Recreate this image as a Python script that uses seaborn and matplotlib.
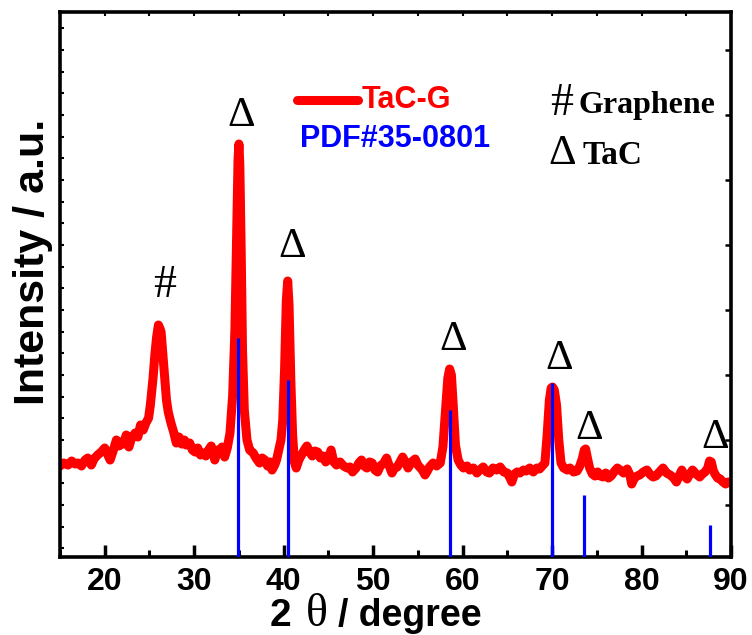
import numpy as np
import pandas as pd
import seaborn as sns
import matplotlib
matplotlib.use("Agg")
import matplotlib.pyplot as plt
from matplotlib.ticker import MultipleLocator

# XRD pattern of the TaC-G sample (2-theta in degrees, intensity in counts)
two_theta = [
    15.0, 15.4, 15.9, 16.3, 16.7, 17.0, 17.4, 17.8, 18.1, 18.5, 18.8, 19.2, 19.6, 20.0,
    20.3, 20.6, 20.9, 21.3, 21.6, 21.8, 22.1, 22.4, 22.7, 23.0, 23.4, 23.7, 24.0, 24.3,
    24.6, 24.9, 25.1, 25.4, 25.6, 25.8, 26.0, 26.15, 26.3, 26.5, 26.7, 26.9, 27.1, 27.4,
    27.7, 28.0, 28.3, 28.6, 28.9, 29.1, 29.5, 29.8, 30.1, 30.4, 30.7, 31.0, 31.3, 31.6,
    31.9, 32.1, 32.3, 32.6, 32.9, 33.1, 33.4, 33.7, 34.0, 34.3, 34.55, 34.75, 34.9, 35.0,
    35.1, 35.25, 35.4, 35.6, 35.9, 36.2, 36.6, 36.9, 37.3, 37.6, 37.9, 38.2, 38.5, 38.7,
    39.0, 39.2, 39.4, 39.7, 39.9, 40.1, 40.3, 40.45, 40.6, 40.8, 41.0, 41.2, 41.4, 41.7,
    42.0, 42.3, 42.6, 42.9, 43.2, 43.5, 43.8, 44.1, 44.4, 44.7, 45.0, 45.3, 45.6, 45.9,
    46.3, 46.7, 47.1, 47.4, 47.7, 48.1, 48.4, 48.7, 49.0, 49.3, 49.6, 49.9, 50.2, 50.5,
    50.8, 51.2, 51.5, 51.8, 52.1, 52.4, 52.7, 53.0, 53.3, 53.6, 53.9, 54.3, 54.7, 55.0,
    55.2, 55.5, 55.8, 56.0, 56.3, 56.7, 57.1, 57.5, 57.8, 58.1, 58.35, 58.55, 58.75, 58.95,
    59.2, 59.5, 59.8, 60.1, 60.5, 60.8, 61.2, 61.6, 61.9, 62.3, 62.7, 63.0, 63.4, 63.8,
    64.2, 64.6, 65.0, 65.3, 65.5, 65.8, 66.1, 66.4, 66.8, 67.1, 67.5, 67.9, 68.3, 68.6,
    68.9, 69.2, 69.45, 69.7, 69.9, 70.05, 70.25, 70.5, 70.75, 71.0, 71.3, 71.7, 72.0, 72.4,
    72.8, 73.1, 73.4, 73.6, 73.75, 73.95, 74.2, 74.5, 74.8, 75.1, 75.4, 75.7, 76.0, 76.3,
    76.6, 77.0, 77.3, 77.6, 78.0, 78.4, 78.7, 78.9, 79.2, 79.5, 79.8, 80.2, 80.6, 81.0,
    81.3, 81.6, 82.0, 82.4, 82.8, 83.2, 83.6, 83.9, 84.2, 84.5, 84.8, 85.1, 85.4, 85.7,
    86.1, 86.5, 86.8, 87.1, 87.4, 87.6, 87.8, 88.0, 88.2, 88.5, 88.8, 89.1, 89.4, 89.7, 90.0,
]
intensity = [
    1400, 1446, 1415, 1477, 1431, 1446, 1400, 1492, 1523, 1415, 1508, 1569, 1615, 1677,
    1585, 1492, 1615, 1800, 1708, 1769, 1738, 1877, 1692, 1831, 1908, 1846, 2031, 1954,
    2062, 2138, 2338, 2754, 3108, 3385, 3569, 3523, 3462, 3108, 2754, 2415, 2231, 2062,
    1923, 1754, 1846, 1738, 1800, 1723, 1754, 1646, 1615, 1677, 1569, 1600, 1554, 1646,
    1708, 1615, 1492, 1646, 1600, 1692, 1538, 1677, 1908, 2492, 3492, 5031, 6108, 6354,
    6031, 4723, 3185, 2262, 1800, 1646, 1600, 1523, 1446, 1523, 1492, 1400, 1462, 1338,
    1415, 1492, 1615, 1800, 2108, 2877, 3954, 4246, 3877, 2723, 1877, 1462, 1369, 1492,
    1569, 1646, 1708, 1615, 1554, 1631, 1615, 1523, 1554, 1462, 1523, 1646, 1462, 1415,
    1462, 1400, 1369, 1385, 1308, 1369, 1446, 1492, 1400, 1369, 1462, 1446, 1338, 1308,
    1400, 1446, 1523, 1400, 1292, 1369, 1385, 1462, 1538, 1462, 1369, 1462, 1508, 1415,
    1385, 1338, 1262, 1308, 1385, 1446, 1400, 1446, 1692, 2262, 2754, 2892, 2800, 2338,
    1723, 1492, 1415, 1369, 1400, 1338, 1369, 1292, 1338, 1385, 1308, 1292, 1369, 1338,
    1385, 1308, 1292, 1215, 1154, 1277, 1308, 1292, 1338, 1323, 1369, 1308, 1369, 1354,
    1400, 1446, 1877, 2415, 2600, 2615, 2569, 2338, 1800, 1446, 1369, 1338, 1369, 1308,
    1323, 1400, 1523, 1646, 1662, 1523, 1369, 1277, 1246, 1308, 1246, 1231, 1292, 1215,
    1246, 1323, 1369, 1338, 1292, 1354, 1262, 1123, 1215, 1246, 1262, 1308, 1338, 1262,
    1231, 1246, 1308, 1369, 1292, 1262, 1215, 1154, 1246, 1338, 1246, 1200, 1277, 1338,
    1277, 1231, 1277, 1308, 1369, 1477, 1462, 1338, 1277, 1215, 1200, 1154, 1123, 1154, 1138,
]

# Reference pattern PDF#35-0801 (TaC): line positions and stick heights
pdf_theta = [34.88, 40.45, 58.6, 70.0, 73.6, 87.6]
pdf_height = [3369, 2723, 2262, 2677, 954, 492]

# Peak markers
tac_marks_x = [35.3, 40.9, 58.9, 70.75, 74.2, 88.2]
tac_marks_y = [6631, 4615, 3185, 2892, 1815, 1677]
graphene_mark = (26.7, 4000)

df = pd.DataFrame({"two_theta": two_theta, "intensity": intensity})

sns.set_theme(style="ticks")
plt.rcParams["font.family"] = ["Liberation Sans", "DejaVu Sans"]
plt.rcParams["text.color"] = "black"
plt.rcParams["xtick.color"] = "black"
plt.rcParams["ytick.color"] = "black"
plt.rcParams["axes.edgecolor"] = "black"

fig = plt.figure(figsize=(7.52, 6.35), dpi=100)
ax = fig.add_axes([60 / 752, 78 / 635, 671 / 752, 545 / 635])

RED = "#ff0000"
BLUE = "#0000ff"

ax.vlines(pdf_theta, 0, pdf_height, colors=BLUE, linewidth=2.3, zorder=3)
sns.lineplot(data=df, x="two_theta", y="intensity", sort=False, color=RED,
             linewidth=6.5, ax=ax, zorder=2, solid_joinstyle="round",
             solid_capstyle="round")

ax.set_xlim(15, 90)
ax.set_ylim(0, 8385)

# axes frame and ticks
for s in ax.spines.values():
    s.set_linewidth(2.6)
    s.set_color("black")
ax.xaxis.set_major_locator(MultipleLocator(10))
ax.xaxis.set_minor_locator(MultipleLocator(5))
ax.yaxis.set_major_locator(MultipleLocator(1000, offset=800))
ax.yaxis.set_minor_locator(MultipleLocator(1000 / 3, offset=800))
ax.tick_params(axis="x", which="major", direction="in", length=9, width=2.5,
               top=False, bottom=True, pad=7, labelcolor="black")
ax.tick_params(axis="x", which="minor", direction="in", length=5, width=2.2,
               top=False, bottom=True)
ax.tick_params(axis="y", which="both", direction="in", length=3, width=1.5,
               left=True, right=False, labelleft=False)

# top and right tick marks
tx = ax.secondary_xaxis("top")
tx.xaxis.set_major_locator(MultipleLocator(5))
tx.tick_params(direction="in", length=3, width=1.5, labeltop=False)
tx.spines["top"].set_visible(False)
ry = ax.secondary_yaxis("right")
ry.yaxis.set_major_locator(MultipleLocator(1000, offset=800))
ry.tick_params(direction="in", length=4, width=1.8, labelright=False)
ry.spines["right"].set_visible(False)

tick_font = dict(family="Liberation Sans", weight="bold", size=23)
ax.set_xticks([20, 30, 40, 50, 60, 70, 80, 90])
ax.set_xticklabels(["20", "30", "40", "50", "60", "70", "80", "90"], fontdict=tick_font)
ax.set_xlabel("")
ax.set_ylabel("")

# axis titles
bold = dict(family="Liberation Sans", weight="bold")
fig.text(270 / 752, 0.014, "2", fontsize=28, ha="left", va="baseline", **bold)
fig.text(306 / 752, 0.014, "θ", fontsize=33, ha="left", va="baseline",
         family="Liberation Serif")
fig.text(338 / 752, 0.014, "/ degree", fontsize=27, ha="left", va="baseline", **bold)
fig.text(33 / 752, 0.587, "Intensity / a.u.", rotation=90, fontsize=31,
         fontweight="bold", ha="center", va="center", family="Liberation Sans")

# legend drawn by hand: red line handle, labels in series colours
ax.plot([0.353, 0.444], [0.8385, 0.8385], transform=ax.transAxes, color=RED,
        linewidth=6.5, solid_capstyle="round")
ax.text(0.450, 0.824, "TaC-G", transform=ax.transAxes, color=RED, fontsize=22,
        fontweight="bold", ha="left", va="baseline")
ax.text(0.358, 0.752, "PDF#35-0801", transform=ax.transAxes, color=BLUE, fontsize=22,
        fontweight="bold", ha="left", va="baseline")

# phase key
serif = "Liberation Serif"
ax.text(0.730, 0.811, "#", transform=ax.transAxes, fontsize=33, family=serif,
        ha="left", va="baseline")
ax.text(0.772, 0.815, "Graphene", transform=ax.transAxes, fontsize=23, family=serif,
        fontweight="bold", ha="left", va="baseline")
ax.text(0.728, 0.721, "Δ", transform=ax.transAxes, fontsize=31, family=serif,
        ha="left", va="baseline")
ax.text(0.779, 0.721, "TaC", transform=ax.transAxes, fontsize=24, family=serif,
        fontweight="bold", ha="left", va="baseline")

# peak markers
for x, y in zip(tac_marks_x, tac_marks_y):
    ax.text(x, y, "Δ", fontsize=31, family=serif, ha="center", va="baseline")
ax.text(graphene_mark[0], graphene_mark[1], "#", fontsize=33, family=serif,
        ha="center", va="baseline")

fig.savefig("out.png", dpi=100)
